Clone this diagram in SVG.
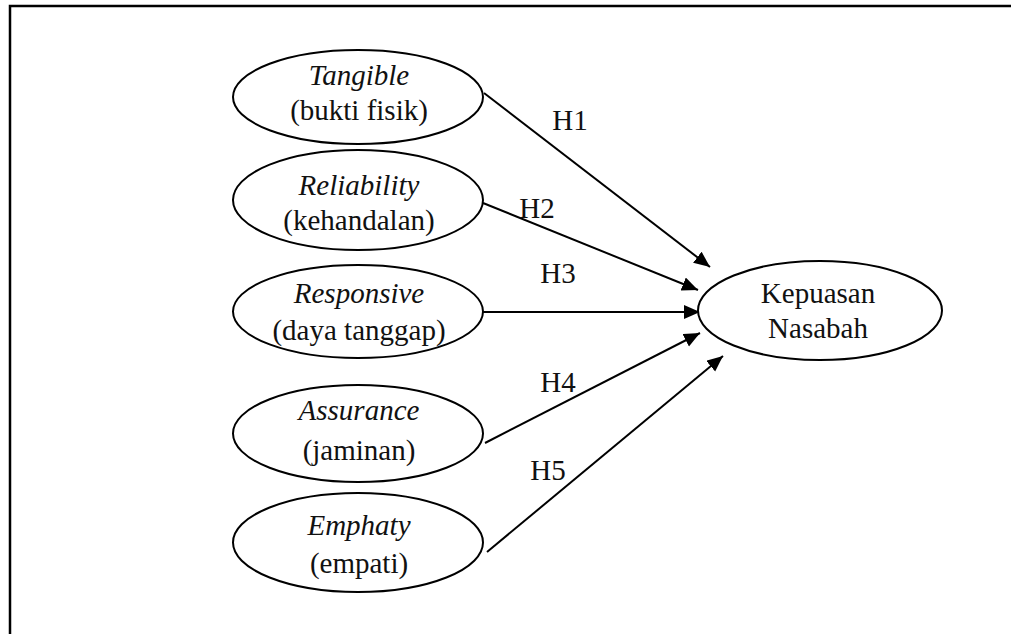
<svg xmlns="http://www.w3.org/2000/svg" width="1011" height="634" viewBox="0 0 1011 634">
<style>
.frame{stroke:#000;stroke-width:2.5;fill:none}
.node ellipse{fill:#fff;stroke:#000;stroke-width:2}
text{font-family:"Liberation Serif","Times New Roman",serif;font-size:29px;fill:#111;text-anchor:middle}
.it{font-style:italic}
.edge{stroke:#000;stroke-width:2;fill:none;marker-end:url(#arr)}
</style>
<defs>
<marker id="arr" markerUnits="userSpaceOnUse" markerWidth="18" markerHeight="16" refX="16" refY="7" orient="auto">
<path d="M0,0 L16,7 L0,14 Z" fill="#000"/>
</marker>
</defs>
<rect width="1011" height="634" fill="#fff"/>
<path class="frame" d="M10,634 L10,6 L1011,6"/>
<g id="connectors">
<line class="edge" x1="484" y1="93" x2="710" y2="267"/>
<line class="edge" x1="483" y1="203" x2="698" y2="290"/>
<line class="edge" x1="482" y1="312" x2="700" y2="312"/>
<line class="edge" x1="485" y1="443" x2="700" y2="333"/>
<line class="edge" x1="487" y1="552" x2="723" y2="356"/>
<text x="570" y="130">H1</text>
<text x="537" y="218">H2</text>
<text x="558" y="283">H3</text>
<text x="558" y="392">H4</text>
<text x="548" y="480">H5</text>
</g>
<g id="tangible" class="node">
<ellipse cx="358" cy="97" rx="125" ry="47"/>
<text class="it" x="359" y="85">Tangible</text>
<text x="359" y="120">(bukti fisik)</text>
</g>
<g id="reliability" class="node">
<ellipse cx="358" cy="200" rx="125" ry="50"/>
<text class="it" x="359" y="195">Reliability</text>
<text x="359" y="230">(kehandalan)</text>
</g>
<g id="responsive" class="node">
<ellipse cx="358" cy="311.5" rx="125" ry="46.5"/>
<text class="it" x="359" y="303">Responsive</text>
<text x="359" y="340">(daya tanggap)</text>
</g>
<g id="assurance" class="node">
<ellipse cx="358" cy="433.5" rx="125" ry="48.5"/>
<text class="it" x="359" y="420">Assurance</text>
<text x="359" y="460">(jaminan)</text>
</g>
<g id="emphaty" class="node">
<ellipse cx="358" cy="542.5" rx="125" ry="49.5"/>
<text class="it" x="359" y="535">Emphaty</text>
<text x="359" y="573">(empati)</text>
</g>
<g id="kepuasan" class="node">
<ellipse cx="820" cy="310.5" rx="122" ry="49.5"/>
<text x="818" y="303">Kepuasan</text>
<text x="818" y="338">Nasabah</text>
</g>
</svg>
